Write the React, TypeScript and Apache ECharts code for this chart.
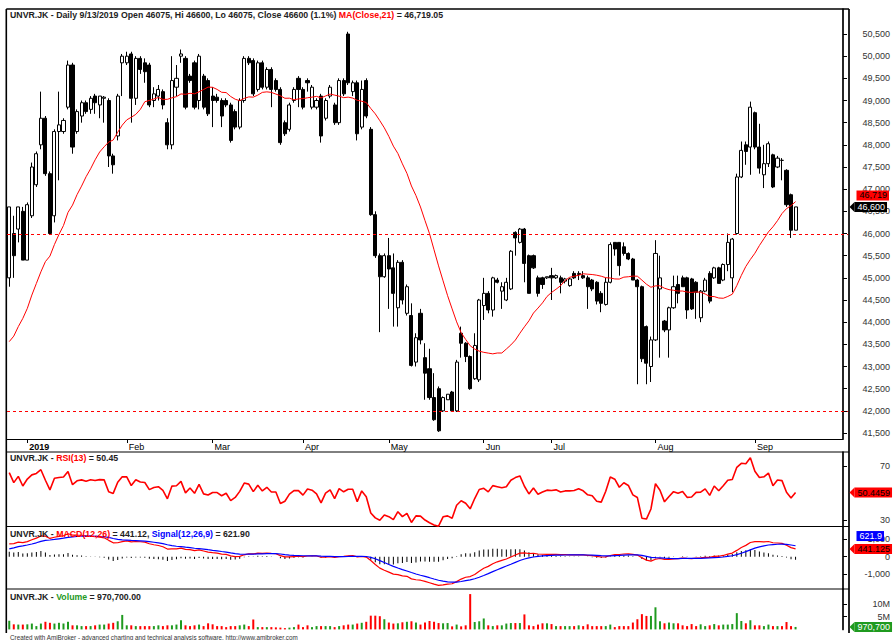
import React, { useEffect, useRef } from "react";
import * as echarts from "echarts";

const FONT = '"Liberation Sans", Arial, Helvetica, sans-serif';

// ---- calendar: trading bars per month (Dec 2018 tail .. Sep 2019) ----
const monthNames = ["Dec", "2019", "Feb", "Mar", "Apr", "May", "Jun", "Jul", "Aug", "Sep"];
const barsPerMonth = [4, 22, 19, 20, 19, 21, 15, 23, 22, 10];
const blankBars = 10;

// ---- daily OHLC ----
const opens = [
  45000, 46000, 46100, 46500, 45400, 46400, 47100, 48000, 48600, 47350, 46400, 48300, 48300, 48850, 49800, 48300, 48650, 48950, 48800, 49100, 48900, 49050, 49000, 47750, 48200, 49850,
  49850, 50050, 49050, 49950, 49850, 49800, 49000, 49100, 49200, 48500, 48000, 49300, 50000, 49950, 49550, 49850, 49000, 49550, 49450,
  49100, 49075, 49000, 49000, 48900, 48750, 48400, 49000, 49950, 49900, 49250, 49850, 49300, 49700, 49450, 49250, 48500, 48350, 49000, 49500,
  49250, 49450, 48850, 48850, 49100, 48600, 49100, 48900, 48500, 49450, 50500, 49200, 49400, 48400, 49450, 48350, 46425, 45500, 45025,
  45500, 45225, 44325, 45350, 44200, 44150, 43100, 44200, 43200, 42950, 42300, 42500, 42000, 42250, 42425, 42000, 43750, 43525, 43225, 42725, 42700,
  44375, 44650, 44275, 44950, 44700, 44500, 44750, 46025, 45800, 46100, 45500, 45500, 45000, 45000, 45000,
  45050, 45000, 45000, 44925, 44825, 45100, 45075, 45050, 45000, 44950, 44900, 44650, 44400, 44900, 45800, 45800, 45700, 45550, 45425, 44950, 44800, 43900, 43000,
  43600, 44750, 44025, 43825, 44325, 44850, 45000, 45000, 44975, 44900, 44100, 44700, 45100, 45000, 45225, 44950, 45300, 45000, 46000, 47275, 48000, 47950,
  48725, 47950, 47325, 47575, 47775, 47500, 47650, 47425, 46875, 46075,
];
const highs = [
  46600, 46400, 46600, 46600, 46700, 47600, 47850, 49200, 48650, 47400, 48350, 49200, 48600, 49900, 49850, 48800, 49000, 49000, 49100, 49150, 49100, 49100, 49050, 47800, 49150, 50050,
  50100, 50100, 50000, 50000, 49950, 49850, 49300, 49350, 49250, 48600, 50000, 49800, 50150, 50000, 49600, 49900, 50050, 49600, 49500,
  49300, 49150, 49050, 49050, 48950, 48800, 49050, 50000, 50000, 49950, 49900, 49900, 49750, 49750, 49500, 49300, 48550, 48950, 49300, 49550,
  49300, 49500, 49350, 49050, 49150, 49050, 49350, 48950, 49500, 49500, 50550, 49450, 49450, 49450, 49500, 48400, 46500, 45550, 45550,
  45900, 45550, 45400, 45400, 44850, 44425, 43750, 44300, 43525, 43400, 42850, 42550, 42325, 42375, 42450, 43150, 43900, 43550, 43250, 43750, 44525,
  45000, 44700, 45025, 45000, 44900, 45000, 45625, 46050, 46125, 46125, 45525, 45525, 45050, 45025, 45025,
  45225, 45075, 45050, 45000, 45000, 45150, 45150, 45150, 45050, 44975, 44925, 44700, 45000, 45800, 45800, 45800, 45800, 45575, 45450, 44975, 44825, 43925, 43675,
  45850, 45500, 44050, 44350, 45050, 45050, 45050, 45025, 45000, 44925, 44725, 45000, 45150, 45250, 45250, 45325, 46000, 45900, 47350, 48075, 48075, 48975,
  48750, 48475, 48000, 48075, 47800, 47750, 47700, 47450, 46900, 46600,
];
const lows = [
  44800, 45000, 45800, 45400, 45400, 46350, 47050, 47900, 47300, 46000, 46250, 47200, 48250, 48800, 47800, 48250, 48500, 48700, 48700, 48700, 48600, 48500, 47500, 47350, 48100, 49100,
  49800, 48500, 48900, 49600, 49400, 48850, 48850, 49000, 48800, 47900, 47900, 49100, 49850, 48800, 49400, 48800, 48800, 48800, 48650,
  48400, 48950, 48400, 48850, 48050, 48350, 48350, 48950, 49800, 49100, 49200, 49250, 49250, 48850, 49200, 48000, 48200, 48300, 48950, 48850,
  48800, 49200, 48800, 48800, 48050, 48550, 49050, 48450, 48450, 49100, 49350, 49100, 48100, 48350, 48600, 46400, 45450, 43775, 45000,
  44300, 43900, 43900, 44400, 44150, 43000, 43000, 43500, 42250, 42250, 41775, 41525, 41975, 42250, 41975, 41975, 43200, 43100, 42475, 42700, 42650,
  44050, 44200, 44125, 44875, 44300, 44475, 44725, 45500, 45775, 44900, 44650, 45200, 44575, 44750, 44975,
  44500, 44975, 44650, 44875, 44800, 44975, 44950, 44975, 44300, 44700, 44400, 44225, 44375, 44875, 45500, 45050, 45500, 45400, 44950, 42600, 43100, 42600, 42650,
  43575, 43200, 43775, 43200, 44300, 44425, 44800, 44075, 44275, 44075, 44000, 44675, 44425, 44975, 44875, 44925, 45150, 44675, 45975, 47250, 47550, 47325,
  47900, 47350, 47025, 47500, 47025, 47475, 47200, 46600, 45900, 46075,
];
const closes = [
  46600, 45500, 46600, 45400, 46650, 47500, 47800, 48600, 47350, 46000, 48300, 48450, 48550, 49800, 47950, 48750, 48950, 48750, 49050, 48950, 49100, 49075, 47750, 47550, 49100, 50000,
  50000, 49050, 49950, 49700, 49650, 48900, 49150, 49250, 48900, 48000, 49450, 49500, 50050, 48850, 49450, 48850, 50000, 48850, 48700,
  49000, 49000, 48650, 48900, 48100, 48400, 49000, 49950, 49850, 49150, 49850, 49300, 49700, 49250, 49250, 48050, 48250, 48900, 49250, 49250,
  48850, 49400, 49300, 49000, 48200, 49000, 49300, 48500, 49450, 49150, 49400, 49400, 48250, 49250, 48650, 46425, 45500, 45025, 45500,
  45200, 44650, 45350, 44500, 44800, 43025, 43650, 43600, 42850, 42300, 41800, 41550, 42300, 42375, 42000, 43100, 43525, 43225, 42500, 43475, 44500,
  44650, 44275, 45000, 44900, 44800, 44900, 45600, 45900, 46100, 45325, 44650, 45225, 44650, 44850, 45025,
  45000, 45050, 44900, 44975, 44975, 45000, 45100, 45000, 44800, 44750, 44475, 44425, 44900, 45750, 45650, 45275, 45550, 45425, 44950, 44800, 43175, 43075, 43600,
  45550, 45000, 43825, 44325, 44800, 44650, 44800, 44275, 44300, 44675, 44700, 44950, 44475, 45225, 44875, 45300, 45800, 45875, 47275, 47875, 47850, 48850,
  47950, 47475, 47575, 48025, 47050, 47700, 47650, 46650, 46075, 46600,
];
// daily volume, millions of shares
const volumesM = [
  3.4, 2.0, 1.9, 1.9, 2.0, 2.3, 1.3, 2.3, 3.0, 2.6, 2.3, 2.6, 2.3, 3.0, 1.6, 1.6, 1.3, 1.3, 1.3, 1.6, 1.9, 1.9, 2.3, 2.6, 3.2, 5.7,
  1.6, 1.6, 1.3, 1.3, 1.3, 1.3, 1.3, 1.6, 1.3, 1.6, 1.6, 1.9, 3.6, 1.6, 1.3, 1.6, 1.9, 1.3, 2.4,
  2.0, 1.3, 1.3, 0.9, 1.3, 1.3, 1.6, 1.9, 1.3, 3.9, 0.9, 0.9, 0.9, 0.9, 0.8, 0.7, 0.5, 0.7, 0.9, 1.9,
  0.9, 1.6, 0.9, 1.3, 1.3, 1.3, 1.3, 0.9, 1.3, 1.6, 1.9, 1.9, 2.3, 2.6, 3.0, 5.4, 5.4, 5.2, 4.0,
  2.7, 2.3, 2.4, 2.8, 3.0, 3.2, 2.7, 1.9, 2.7, 3.3, 3.0, 2.5, 2.4, 2.5, 1.2, 1.9, 1.2, 1.6, 13.9, 2.9, 3.2,
  4.3, 1.6, 1.3, 1.6, 1.6, 2.3, 2.5, 2.5, 2.5, 5.9, 1.6, 1.3, 1.9, 2.4, 2.4,
  2.1, 1.3, 1.3, 1.3, 1.3, 1.3, 1.6, 1.3, 2.0, 1.3, 1.3, 1.3, 1.3, 1.9, 0.9, 1.3, 1.3, 1.3, 2.7, 4.0, 6.0, 5.3, 5.3,
  8.7, 3.2, 2.4, 2.7, 2.4, 2.4, 1.6, 1.3, 2.1, 1.3, 2.0, 1.3, 1.6, 2.1, 1.6, 1.9, 1.9, 2.1, 6.4, 3.3, 2.4, 3.6,
  1.6, 1.6, 1.3, 1.9, 1.3, 1.3, 1.3, 2.9, 1.3, 0.9707,
];
// closes before the visible window (estimated from where MA/RSI/MACD start)
const preCloses = [
  43000, 42600, 42900, 42400, 42800, 43100, 42700, 43200, 42800, 43300,
  42900, 42100, 41500, 41900, 41200, 42300, 43100, 42500, 43400, 42800,
  43700, 44300, 43600, 44500, 43800, 44900, 44300, 45300, 44700, 45400,
];

// ---- axis ticks, levels and last-value labels ----
const priceTicks = [41500, 42000, 42500, 43000, 43500, 44000, 44500, 45000, 45500, 46000, 46500, 47000, 47500, 48000, 48500, 49000, 49500, 50000, 50500];
const rsiTicks = [30, 70];
const macdTicks = [-1000, 0, 1000];
const volTicks = [5000000, 10000000];
const levelLines = [46000, 42000];
const lastClose = 46600;
const lastRSI = 50.4459;
const lastMACD = 441.125;
const lastVolume = 970700;

const priceTitle = "UNVR.JK - Daily 9/13/2019 Open 46075, Hi 46600, Lo 46075, Close 46600 (1.1%) ";

function ema(arr: number[], n: number) {
  const a = 2 / (n + 1);
  const out: number[] = [];
  let e = arr[0];
  for (let i = 0; i < arr.length; i++) {
    e = i === 0 ? arr[0] : a * arr[i] + (1 - a) * e;
    out.push(e);
  }
  return out;
}
function rsiWilder(arr: number[], n: number) {
  const out: (number | null)[] = arr.map(() => null);
  let ag = 0, al = 0;
  for (let i = 1; i <= n; i++) {
    const d = arr[i] - arr[i - 1];
    if (d > 0) ag += d; else al -= d;
  }
  ag /= n; al /= n;
  out[n] = al === 0 ? 100 : 100 - 100 / (1 + ag / al);
  for (let i = n + 1; i < arr.length; i++) {
    const d = arr[i] - arr[i - 1];
    ag = (ag * (n - 1) + Math.max(d, 0)) / n;
    al = (al * (n - 1) + Math.max(-d, 0)) / n;
    out[i] = al === 0 ? 100 : 100 - 100 / (1 + ag / al);
  }
  return out;
}

export default function App() {
  const ref = useRef<HTMLDivElement>(null);
  useEffect(() => {
    const el = ref.current!;
    const chart = echarts.init(el, null, { renderer: "svg" });

    const cats: string[] = [];
    monthNames.forEach((m, mi) => {
      for (let k = 0; k < barsPerMonth[mi]; k++) cats.push(m + "|" + k);
    });
    for (let k = 0; k < blankBars; k++) cats.push("blank|" + k);
    const isMonthStart = (v: string) => {
      const [m, k] = String(v).split("|");
      return k === "0" && m !== "Dec" && m !== "blank";
    };
    const monthInterval = (_i: number, v: string) => isMonthStart(v);

    const P = preCloses.length;
    const all = [...preCloses, ...closes];
    const ma21 = closes.map((_, i) => {
      const k = P + i;
      let s = 0;
      for (let j = k - 20; j <= k; j++) s += all[j];
      return s / 21;
    });
    const rsiAll = rsiWilder(all, 13);
    const e12 = ema(all, 12);
    const e26 = ema(all, 26);
    const macdAll = e12.map((v, i) => v - e26[i]);
    const sigAll = ema(macdAll, 9);
    const rsi = rsiAll.slice(P);
    const macd = macdAll.slice(P);
    const signal = sigAll.slice(P);
    const hist = macd.map((v, i) => v - signal[i]);

    const ohlc = closes.map((c, i) => [opens[i], c, lows[i], highs[i]]);
    const GREEN = "#1f9a1f";
    const RED = "#ff0000";
    const vols = volumesM.map((v, i) => ({
      value: v * 1e6,
      itemStyle: { color: closes[i] > opens[i] ? GREEN : RED },
    }));

    const gridDefs = [
      { top: 9, height: 430 },
      { top: 452, height: 74.5 },
      { top: 526.5, height: 62.5 },
      { top: 589, height: 40.4 },
    ];
    const ranges = [
      [41365, 51064],
      [25.6, 80.1],
      [-1880, 1750],
      [0, 15900000],
    ];
    const tickSets = [priceTicks, rsiTicks, macdTicks, volTicks];
    const fmts = [
      (v: number) => v.toLocaleString("en-US"),
      (v: number) => String(v),
      (v: number) => v.toLocaleString("en-US"),
      (v: number) => v / 1e6 + "M",
    ];

    const txt = (fill: string, extra: any = {}) => ({ color: fill, fontSize: 8.75, fontFamily: FONT, ...extra });

    const option: any = {
      animation: false,
      backgroundColor: "#fff",
      title: [
        {
          left: 10, top: 10, padding: 0,
          text: "{k|" + priceTitle + "}{r|MA(Close,21)}{k| = 46,719.05}",
          textStyle: { rich: { k: txt("#222"), r: txt(RED) } },
        },
        {
          left: 10, top: 453.5, padding: 0,
          text: "{k|UNVR.JK - }{r|RSI(13)}{k| = 50.45}",
          textStyle: { rich: { k: txt("#222"), r: txt(RED) } },
        },
        {
          left: 10, top: 529, padding: 0,
          text: "{k|UNVR.JK - }{r|MACD(12,26)}{k| = 441.12, }{b|Signal(12,26,9)}{k| = 621.90}",
          textStyle: { rich: { k: txt("#222"), r: txt(RED), b: txt("#0000ff") } },
        },
        {
          left: 10, top: 592, padding: 0,
          text: "{k|UNVR.JK - }{g|Volume}{k| = 970,700.00}",
          textStyle: { rich: { k: txt("#222"), g: txt(GREEN) } },
        },
        {
          left: 10, top: 634, padding: 0,
          text: "Created with AmiBroker - advanced charting and technical analysis software. http://www.amibroker.com",
          textStyle: { color: "#333", fontSize: 6.3, fontFamily: FONT, fontWeight: "normal" },
        },
      ],
      grid: gridDefs.map((g) => ({ left: 7, right: 44, top: g.top, height: g.height })),
      xAxis: gridDefs.map((_, gi) => ({
        type: "category",
        gridIndex: gi,
        data: cats,
        boundaryGap: true,
        show: gi === 0,
        axisLine: { show: gi === 0, lineStyle: { color: "#000", width: 1 } },
        axisTick: { show: gi === 0, alignWithLabel: true, interval: monthInterval, length: 4, lineStyle: { color: "#000" } },
        axisLabel: {
          show: gi === 0,
          interval: monthInterval,
          align: "left",
          margin: 3,
          padding: [0, 0, 0, 2],
          formatter: (v: string) => {
            const m = String(v).split("|")[0];
            return m === "2019" ? "{b|2019}" : "{n|" + m + "}";
          },
          rich: { b: txt("#000", { fontWeight: "bold", fontSize: 9 }), n: txt("#000", { fontSize: 9 }) },
        },
        splitLine: { show: false },
      })),
      yAxis: gridDefs.map((_, gi) => ({
        type: "value",
        gridIndex: gi,
        position: "right",
        min: ranges[gi][0],
        max: ranges[gi][1],
        scale: true,
        axisLine: { show: true, lineStyle: { color: "#000", width: 1.7 } },
        axisTick: { show: true, length: 4, customValues: tickSets[gi], lineStyle: { color: "#000" } },
        axisLabel: {
          customValues: tickSets[gi],
          formatter: fmts[gi],
          align: "right",
          margin: 47,
          color: "#333",
          fontSize: 9,
          fontFamily: FONT,
        },
        splitLine: { show: false },
      })),
      series: [
        {
          type: "candlestick",
          xAxisIndex: 0,
          yAxisIndex: 0,
          data: ohlc,
          barWidth: 3.6,
          silent: true,
          z: 3,
          itemStyle: { color: "#fff", color0: "#000", borderColor: "#000", borderColor0: "#000", borderWidth: 1 },
        },
        {
          type: "line", xAxisIndex: 0, yAxisIndex: 0, data: ma21, symbol: "none", silent: true, z: 5,
          lineStyle: { color: RED, width: 1 },
        },
        {
          type: "line", xAxisIndex: 1, yAxisIndex: 1, data: rsi, symbol: "none", silent: true,
          lineStyle: { color: RED, width: 1.6 },
        },
        {
          type: "bar", xAxisIndex: 2, yAxisIndex: 2, data: hist, barWidth: 1, silent: true,
          itemStyle: { color: "#000" },
        },
        {
          type: "line", xAxisIndex: 2, yAxisIndex: 2, data: macd, symbol: "none", silent: true,
          lineStyle: { color: RED, width: 1.2 },
        },
        {
          type: "line", xAxisIndex: 2, yAxisIndex: 2, data: signal, symbol: "none", silent: true,
          lineStyle: { color: "#0000ff", width: 1.2 },
        },
        {
          type: "bar", xAxisIndex: 3, yAxisIndex: 3, data: vols, barWidth: 2, silent: true,
        },
      ],
    };
    chart.setOption(option);

    const py = (ai: number, v: number) => chart.convertToPixel({ yAxisIndex: ai } as any, v) as number;
    const AX = 849.5;
    const box = (y: number, text: string, bg: string, fg: string, arrow: boolean) => {
      const h = 10;
      const out: any[] = [];
      if (arrow) {
        out.push({
          type: "polygon", z: 100,
          shape: { points: [[AX, y], [AX + 5, y - h / 2], [AX + 5, y + h / 2]] },
          style: { fill: bg },
        });
      }
      out.push({
        type: "text", z: 100,
        x: arrow ? AX + 5 : 856.5, y,
        style: {
          text, fill: fg, font: "9px " + FONT,
          backgroundColor: bg, padding: [1, 2, 0, 3], lineHeight: 9,
          align: "left", verticalAlign: "middle",
        },
      });
      return out;
    };

    const yClose = py(0, lastClose);
    const yMacd = py(2, lastMACD);
    const levels = levelLines.map((v) => {
      const y = Math.round(py(0, v)) + 0.5;
      return {
        type: "line", z: 4, silent: true,
        shape: { x1: 7, y1: y, x2: 848, y2: y },
        style: { stroke: RED, lineWidth: 1, lineDash: [3, 3] },
      };
    });
    const frame = [
      { type: "line", shape: { x1: 6.3, y1: 9, x2: 849, y2: 9 }, style: { stroke: "#000", lineWidth: 1.6 } },
      { type: "line", shape: { x1: 6.3, y1: 9, x2: 6.3, y2: 633 }, style: { stroke: "#000", lineWidth: 1.6 } },
      { type: "line", shape: { x1: 849, y1: 9, x2: 849, y2: 633 }, style: { stroke: "#000", lineWidth: 1.7 } },
      { type: "line", shape: { x1: 6.3, y1: 452, x2: 849, y2: 452 }, style: { stroke: "#000", lineWidth: 1 } },
      { type: "line", shape: { x1: 6.3, y1: 526.5, x2: 849, y2: 526.5 }, style: { stroke: "#000", lineWidth: 1 } },
      { type: "line", shape: { x1: 6.3, y1: 589, x2: 849, y2: 589 }, style: { stroke: "#000", lineWidth: 1 } },
    ];
    const markers = [
      ...box(yClose - 11.5, "46,719", RED, "#000", false),
      ...box(yClose, "46,600", "#000", "#fff", true),
      ...box(py(1, lastRSI), "50.4459", RED, "#000", true),
      ...box(yMacd - 13, "621.9", "#0000ff", "#fff", false),
      ...box(yMacd, "441.125", RED, "#000", true),
      ...box(py(3, lastVolume), "970,700", GREEN, "#fff", true),
    ];
    chart.setOption({ graphic: [...levels, ...frame, ...markers] });

    return () => chart.dispose();
  }, []);
  return (
    <div
      ref={ref}
      style={{ position: "fixed", left: 0, top: 0, width: 893, height: 640, background: "#fff" }}
    />
  );
}
